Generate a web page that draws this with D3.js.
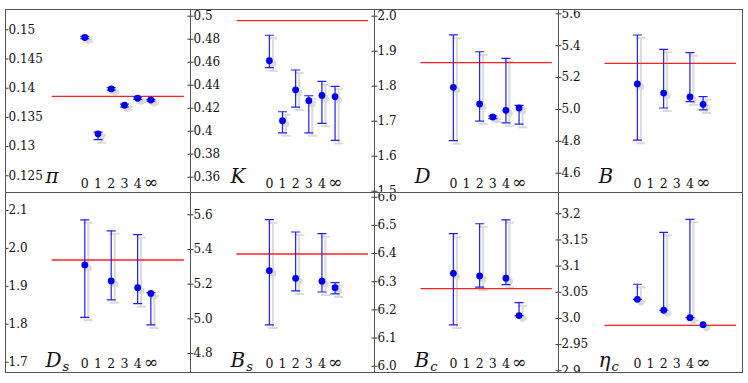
<!DOCTYPE html>
<html>
<head>
<meta charset="utf-8">
<script src="https://cdn.jsdelivr.net/npm/d3@7"></script>
<style>
  body { margin: 0; background: #fff; }
  svg { display: block; }
  text { font-family: 'DejaVu Serif', serif; }
</style>
</head>
<body>
<svg id="chart" width="748" height="383"></svg>
<script>
// x categories (order of the expansion), ∞ drawn at position 5
const orders = ['0', '1', '2', '3', '4', '\u221e'];
const orderPos = [0, 1, 2, 3, 4, 5];

// values, lower and upper ends of the error bars, null where missing
const piVal = [0.1486, 0.1321, 0.1398, 0.1370, 0.1382, 0.1379];
const piLo  = [0.1484, 0.1311, 0.1396, 0.1367, 0.1380, 0.1377];
const piHi  = [0.1488, 0.1324, 0.1400, 0.1372, 0.1384, 0.1380];
const piRef = 0.1385;
const piTicks = ['0.125', '0.13', '0.135', '0.14', '0.145', '0.15'];

const kVal = [0.4609, 0.4087, 0.4356, 0.4261, 0.4307, 0.4296];
const kLo  = [0.4548, 0.3982, 0.4206, 0.3982, 0.4064, 0.3916];
const kHi  = [0.4830, 0.4165, 0.4528, 0.4304, 0.4429, 0.4386];
const kRef = 0.4957;
const kTicks = ['0.36', '0.38', '0.4', '0.42', '0.44', '0.46', '0.48', '0.5'];

const dVal = [1.7954, null, 1.7477, 1.7106, 1.7297, 1.7363];
const dLo  = [1.643, null, 1.699, 1.706, 1.694, 1.690];
const dHi  = [1.945, null, 1.897, 1.714, 1.878, 1.744];
const dRef = 1.8657;
const dTicks = ['1.5', '1.6', '1.7', '1.8', '1.9', '2.0'];

const bVal = [5.157, null, 5.100, null, 5.075, 5.029];
const bLo  = [4.804, null, 5.006, null, 5.046, 4.994];
const bHi  = [5.464, null, 5.374, null, 5.353, 5.077];
const bRef = 5.286;
const bTicks = ['4.6', '4.8', '5.0', '5.2', '5.4', '5.6'];

const dsVal = [1.955, null, 1.913, null, 1.895, 1.880];
const dsLo  = [1.817, null, 1.863, null, 1.853, 1.797];
const dsHi  = [2.074, null, 2.045, null, 2.035, 1.882];
const dsRef = 1.968;
const dsTicks = ['1.7', '1.8', '1.9', '2.0', '2.1'];

const bsVal = [5.275, null, 5.231, null, 5.214, 5.177];
const bsLo  = [4.962, null, 5.158, null, 5.152, 5.141];
const bsHi  = [5.569, null, 5.498, null, 5.488, 5.206];
const bsRef = 5.371;
const bsTicks = ['4.8', '5.0', '5.2', '5.4', '5.6'];

const bcVal = [6.328, null, 6.319, null, 6.311, 6.178];
const bcLo  = [6.145, null, 6.279, null, 6.288, 6.178];
const bcHi  = [6.469, null, 6.504, null, 6.518, 6.224];
const bcRef = 6.274;
const bcTicks = ['6.0', '6.1', '6.2', '6.3', '6.4', '6.5', '6.6'];

const etaVal = [3.0357, null, 3.0147, null, 3.0006, 2.9872];
const etaLo  = [3.0357, null, 3.0147, null, 3.0006, null];
const etaHi  = [3.0644, null, 3.1637, null, 3.1885, null];
const etaRef = 2.986;
const etaTicks = ['2.9', '2.95', '3.0', '3.05', '3.1', '3.15', '3.2'];

// grid layout
const colEdges = [5.5, 190.5, 374.5, 558.5, 742.5];
const rowEdges = [9.5, 192.5, 372.5];
const xDomain = [-6, 8];
const refSpan = [-2.5, 7.5];
const capHalf = 4.5;
const dotR = 3.4;
const shadow = {dx: 3.5, dy: 3, color: '#dadada'};

const panels = [
    {name: '\u03c0', sub: '', val: piVal, lo: piLo, hi: piHi, ref: piRef, ticks: piTicks, domain: [0.12206, 0.15339]},
    {name: 'K', sub: '', val: kVal, lo: kLo, hi: kHi, ref: kRef, ticks: kTicks, domain: [0.3463, 0.5054]},
    {name: 'D', sub: '', val: dVal, lo: dLo, hi: dHi, ref: dRef, ticks: dTicks, domain: [1.4949, 2.0177]},
    {name: 'B', sub: '', val: bVal, lo: bLo, hi: bHi, ref: bRef, ticks: bTicks, domain: [4.476, 5.624]},
    {name: 'D', sub: 's', val: dsVal, lo: dsLo, hi: dsHi, ref: dsRef, ticks: dsTicks, domain: [1.6715, 2.146]},
    {name: 'B', sub: 's', val: bsVal, lo: bsLo, hi: bsHi, ref: bsRef, ticks: bsTicks, domain: [4.6877, 5.7257]},
    {name: 'B', sub: 'c', val: bcVal, lo: bcLo, hi: bcHi, ref: bcRef, ticks: bcTicks, domain: [5.976, 6.615]},
    {name: '\u03b7', sub: 'c', val: etaVal, lo: etaLo, hi: etaHi, ref: etaRef, ticks: etaTicks, domain: [2.8958, 3.2397]}
];

const svg = d3.select('#chart');

panels.forEach(function(p, index) {
    const col = index % 4;
    const row = Math.floor(index / 4);
    const left = colEdges[col], right = colEdges[col + 1];
    const top = rowEdges[row], bottom = rowEdges[row + 1];

    const x = d3.scaleLinear().domain(xDomain).range([left, right]);
    const y = d3.scaleLinear().domain(p.domain).range([bottom, top]);

    const clipId = 'clip' + index;
    svg.append('clipPath').attr('id', clipId)
        .append('rect')
        .attr('x', left).attr('y', top)
        .attr('width', right - left).attr('height', bottom - top);

    const g = svg.append('g').attr('clip-path', 'url(#' + clipId + ')');

    // y axis with labels inside the frame
    const axis = g.append('g')
        .attr('transform', 'translate(' + left + ',0)')
        .call(d3.axisRight(y)
            .tickValues(p.ticks.map(Number))
            .tickFormat(function(d, i) { return p.ticks[i]; })
            .tickSize(3)
            .tickPadding(0));
    axis.select('.domain').remove();
    axis.selectAll('line').attr('stroke', '#333');
    axis.selectAll('text')
        .attr('font-family', "'DejaVu Serif', serif")
        .attr('font-size', 12)
        .attr('fill', '#111');

    // x labels
    g.selectAll('.xl')
        .data(orders)
        .enter()
        .append('text')
        .attr('x', function(d, i) { return x(orderPos[i]); })
        .attr('y', bottom - 4.5)
        .attr('text-anchor', 'middle')
        .attr('font-size', function(d) { return d === '\u221e' ? 17 : 12.5; })
        .attr('fill', '#111')
        .text(function(d) { return d; });

    // panel name
    const label = g.append('text')
        .attr('x', left + 40)
        .attr('y', row === 0 ? bottom - 9.5 : bottom - 6)
        .attr('font-style', 'italic')
        .attr('font-size', 20)
        .attr('fill', '#111')
        .text(p.name);
    if (p.sub) {
        label.append('tspan')
            .attr('font-size', 13)
            .attr('dx', 1)
            .attr('dy', 4)
            .text(p.sub);
    }

    const pts = orderPos.map(function(pos, i) {
        return {pos: pos, val: p.val[i], lo: p.lo[i], hi: p.hi[i]};
    });
    const bars = pts.filter(function(d) { return d.lo !== null && d.hi !== null; });
    const dots = pts.filter(function(d) { return d.val !== null; });

    function drawBars(layer, dx, dy, color, width) {
        bars.forEach(function(d) {
            const cx = x(d.pos) + dx;
            layer.append('line')
                .attr('x1', cx).attr('x2', cx)
                .attr('y1', y(d.lo) + dy).attr('y2', y(d.hi) + dy)
                .attr('stroke', color).attr('stroke-width', width);
            [d.lo, d.hi].forEach(function(v) {
                layer.append('line')
                    .attr('x1', cx - capHalf).attr('x2', cx + capHalf)
                    .attr('y1', y(v) + dy).attr('y2', y(v) + dy)
                    .attr('stroke', color).attr('stroke-width', width);
            });
        });
    }

    // shadows
    const shade = g.append('g');
    drawBars(shade, shadow.dx, shadow.dy, shadow.color, 2);
    shade.selectAll('circle')
        .data(dots)
        .enter()
        .append('circle')
        .attr('cx', function(d) { return x(d.pos) + shadow.dx; })
        .attr('cy', function(d) { return y(d.val) + shadow.dy; })
        .attr('r', dotR)
        .attr('fill', shadow.color);

    // reference line
    g.append('line')
        .attr('x1', x(refSpan[0])).attr('x2', x(refSpan[1]))
        .attr('y1', y(p.ref)).attr('y2', y(p.ref))
        .attr('stroke', '#ff2020')
        .attr('stroke-width', 1.3);

    const fore = g.append('g');
    drawBars(fore, 0, 0, '#1e1eff', 1.2);
    fore.selectAll('circle')
        .data(dots)
        .enter()
        .append('circle')
        .attr('cx', function(d) { return x(d.pos); })
        .attr('cy', function(d) { return y(d.val); })
        .attr('r', dotR)
        .attr('fill', '#0000f0');

    // outer ticks reaching into the neighbouring panel
    if (col > 0) {
        const outer = svg.append('g')
            .attr('transform', 'translate(' + left + ',0)')
            .call(d3.axisLeft(y)
                .tickValues(p.ticks.map(Number).filter(function(v) {
                    return y(v) > top && y(v) < bottom;
                }))
                .tickFormat('')
                .tickSize(3));
        outer.select('.domain').remove();
        outer.selectAll('line').attr('stroke', '#333');
    }

    svg.append('rect')
        .attr('x', left).attr('y', top)
        .attr('width', right - left).attr('height', bottom - top)
        .attr('fill', 'none')
        .attr('stroke', '#555')
        .attr('stroke-width', 1);
});
</script>
</body>
</html>
